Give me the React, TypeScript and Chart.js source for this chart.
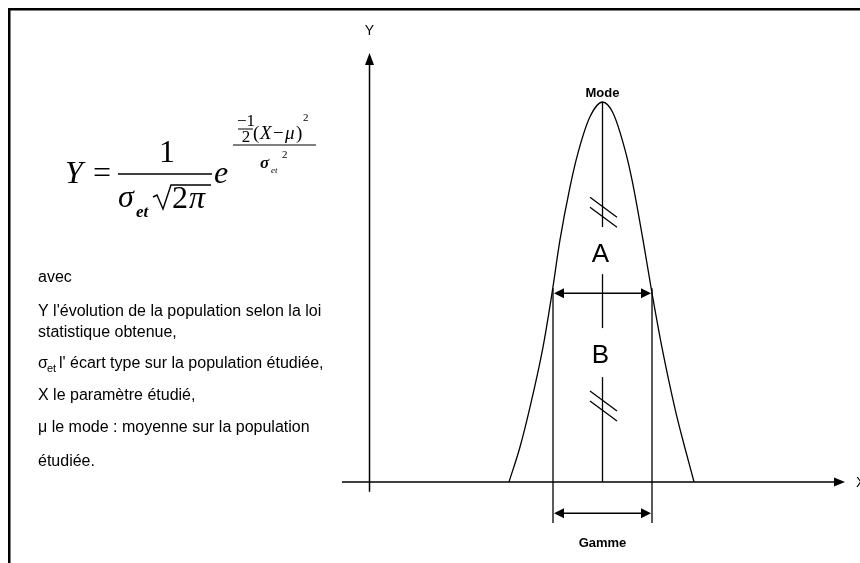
import { useEffect, useRef } from "react";
import { Chart, registerables } from "chart.js";

Chart.register(...registerables);

// ---- Data (X: in units of the half "Gamme" width, centred on the mode; Y: normalised to the mode) ----
const curveX = [-1.889, -1.667, -1.465, -1.202, -1.02, -0.859, -0.657, -0.495, -0.253, 0, 0.212, 0.455, 0.596, 0.818, 1.0, 1.2, 1.47, 1.66, 1.85];
const curveY = [0, 0.092, 0.197, 0.355, 0.497, 0.637, 0.776, 0.866, 0.961, 1.0, 0.971, 0.874, 0.795, 0.637, 0.497, 0.355, 0.19, 0.092, 0];

const modeX = 0;
const axisYAt = -4.707;
const axisYSpan = [-0.026, 1.129];
const axisXSpan = [-5.263, 4.899];
const gammeBounds = [-1, 1];
const gammeLineSpan = [-0.108, 0.51];
const splitArrowY = 0.497;
const gammeArrowY = -0.082;
const modeSegments = [
  [1.0, 0.671],
  [0.547, 0.405],
  [0.276, 0],
];
const hashMarkY = [0.71, 0.2];
const zoneLabels = ["A", "B"];
const zoneLabelY = [0.605, 0.339];
const modeLabel = "Mode";
const modeLabelY = 1.026;
const gammeLabel = "Gamme";
const gammeLabelY = -0.155;
const axisNames = ["X", "Y"];

// ---- Texts ----
const noteHead = "avec";
const noteLines = [
  "Y l'évolution de la population selon la loi",
  "statistique obtenue,",
  "l' écart type sur la population étudiée,",
  "X le paramètre étudié,",
  "μ le mode : moyenne sur la population",
  "étudiée.",
];
const sigmaSymbol = "σ";
const sigmaSub = "et";

const X_MIN = -12.172;
const X_MAX = 5.202;
const Y_MIN = -0.2132;
const Y_MAX = 1.2684;

const SANS = '"Liberation Sans", Arial, sans-serif';
const SERIF = '"Liberation Serif", "Times New Roman", serif';

function arrowHead(ctx: CanvasRenderingContext2D, tx: number, ty: number, angle: number, len: number, half: number) {
  ctx.save();
  ctx.translate(tx, ty);
  ctx.rotate(angle);
  ctx.beginPath();
  ctx.moveTo(0, 0);
  ctx.lineTo(-len, -half);
  ctx.lineTo(-len, half);
  ctx.closePath();
  ctx.fill();
  ctx.restore();
}

function line(ctx: CanvasRenderingContext2D, x1: number, y1: number, x2: number, y2: number, w: number) {
  ctx.lineWidth = w;
  ctx.beginPath();
  ctx.moveTo(x1, y1);
  ctx.lineTo(x2, y2);
  ctx.stroke();
}

function text(ctx: CanvasRenderingContext2D, s: string, x: number, y: number, font: string, align: CanvasTextAlign = "left") {
  ctx.font = font;
  ctx.textAlign = align;
  ctx.textBaseline = "alphabetic";
  ctx.fillText(s, x, y);
}

const diagramPlugin = {
  id: "diagram",
  afterDatasetsDraw(chart: any) {
    const ctx: CanvasRenderingContext2D = chart.ctx;
    const xs = chart.scales.x;
    const ys = chart.scales.y;
    const px = (v: number) => xs.getPixelForValue(v);
    const py = (v: number) => ys.getPixelForValue(v);
    ctx.save();
    ctx.strokeStyle = "#000";
    ctx.fillStyle = "#000";
    ctx.lineCap = "butt";

    // frame
    ctx.fillRect(8, 8, 852, 2.5);
    ctx.fillRect(8, 8, 2.5, 555);

    // Y axis
    const yAxX = px(axisYAt);
    line(ctx, yAxX, py(axisYSpan[0]), yAxX, py(axisYSpan[1]) + 10, 1.5);
    arrowHead(ctx, yAxX, py(axisYSpan[1]), -Math.PI / 2, 12, 4.5);
    // X axis
    const xAxY = py(0);
    line(ctx, px(axisXSpan[0]), xAxY, px(axisXSpan[1]) - 9, xAxY, 1.5);
    arrowHead(ctx, px(axisXSpan[1]), xAxY, 0, 11, 4.5);

    // axis names
    text(ctx, axisNames[1], yAxX, py(axisYSpan[1]) - 18, `14px ${SANS}`, "center");
    text(ctx, axisNames[0], px(axisXSpan[1]) + 11, xAxY + 5, `14px ${SANS}`, "left");

    // mode line segments
    for (const [a, b] of modeSegments) {
      line(ctx, px(modeX), py(a), px(modeX), py(b), 1.3);
    }
    // gamme vertical lines
    for (const g of gammeBounds) {
      line(ctx, px(g), py(gammeLineSpan[1]), px(g), py(gammeLineSpan[0]), 1.3);
    }
    // double arrows
    for (const yv of [splitArrowY, gammeArrowY]) {
      const l = px(gammeBounds[0]);
      const r = px(gammeBounds[1]);
      const yy = py(yv);
      line(ctx, l + 8, yy, r - 8, yy, 1.5);
      arrowHead(ctx, l + 1, yy, Math.PI, 10, 5);
      arrowHead(ctx, r - 1, yy, 0, 10, 5);
    }
    // hash marks
    for (const h of hashMarkY) {
      const cx = px(modeX) + 1;
      const cy = py(h);
      for (const off of [-5, 5]) {
        line(ctx, cx - 13.5, cy - 10 + off, cx + 13.5, cy + 10 + off, 1.3);
      }
    }
    // labels
    ctx.fillStyle = "#000";
    text(ctx, modeLabel, px(modeX), py(modeLabelY) + 5, `bold 13px ${SANS}`, "center");
    text(ctx, gammeLabel, (px(gammeBounds[0]) + px(gammeBounds[1])) / 2, py(gammeLabelY) + 6, `bold 13px ${SANS}`, "center");
    zoneLabels.forEach((s, i) => {
      text(ctx, s, px(modeX) - 2, py(zoneLabelY[i]) + 10, `26px ${SANS}`, "center");
    });

    // ---- formula ----
    text(ctx, "Y", 65, 183, `italic 32px ${SERIF}`);
    text(ctx, "=", 93, 183, `32px ${SERIF}`);
    line(ctx, 118, 174, 212, 174, 1.6);
    text(ctx, "1", 167, 162, `32px ${SERIF}`, "center");
    text(ctx, "σ", 118, 207, `italic 32px ${SERIF}`);
    text(ctx, "et", 136, 217, `italic bold 17px ${SERIF}`);
    // radical
    ctx.lineWidth = 1.4;
    ctx.beginPath();
    ctx.moveTo(153, 197);
    ctx.lineTo(157, 195);
    ctx.lineTo(163, 209);
    ctx.lineTo(171, 185);
    ctx.lineTo(211, 185);
    ctx.stroke();
    text(ctx, "2", 172, 208, `32px ${SERIF}`);
    text(ctx, "π", 189, 208, `italic 32px ${SERIF}`);
    text(ctx, "e", 214, 183, `italic 32px ${SERIF}`);
    // exponent
    line(ctx, 233, 145, 316, 145, 1);
    text(ctx, "−1", 246, 126, `17px ${SERIF}`, "center");
    line(ctx, 238, 129, 253, 129, 1);
    text(ctx, "2", 246, 142, `17px ${SERIF}`, "center");
    text(ctx, "(", 253, 139, `19px ${SERIF}`);
    text(ctx, "X", 260, 139, `italic 19px ${SERIF}`);
    text(ctx, "−", 273, 139, `19px ${SERIF}`);
    text(ctx, "μ", 285, 139, `italic 19px ${SERIF}`);
    text(ctx, ")", 296, 139, `19px ${SERIF}`);
    text(ctx, "2", 303, 121, `11px ${SERIF}`);
    text(ctx, "σ", 260, 168, `italic bold 17px ${SERIF}`);
    text(ctx, "et", 271, 173, `italic 9px ${SERIF}`);
    text(ctx, "2", 282, 158, `11px ${SERIF}`);

    // ---- notes ----
    const nf = `16px ${SANS}`;
    text(ctx, noteHead, 38, 282, nf);
    const baselines = [316, 337, 368, 400, 432, 466];
    noteLines.forEach((s, i) => {
      if (i === 2) {
        text(ctx, sigmaSymbol, 38, baselines[i], nf);
        text(ctx, sigmaSub, 47, baselines[i] + 4, `11px ${SANS}`);
        text(ctx, s, 59, baselines[i], nf);
      } else {
        text(ctx, s, 38, baselines[i], nf);
      }
    });
    ctx.restore();
  },
};

export default function App() {
  const ref = useRef<HTMLCanvasElement | null>(null);
  useEffect(() => {
    document.body.style.margin = "0";
    const canvas = ref.current;
    if (!canvas) return;
    const chart = new Chart(canvas, {
      type: "line",
      data: {
        datasets: [
          {
            label: "Y",
            data: curveX.map((x, i) => ({ x, y: curveY[i] })),
            borderColor: "#000",
            borderWidth: 1.3,
            pointRadius: 0,
            fill: false,
            cubicInterpolationMode: "monotone",
          },
        ],
      },
      options: {
        responsive: false,
        animation: false,
        devicePixelRatio: 1,
        layout: { padding: 0 },
        plugins: { legend: { display: false }, tooltip: { enabled: false }, title: { display: false } },
        scales: {
          x: { type: "linear", min: X_MIN, max: X_MAX, display: false },
          y: { type: "linear", min: Y_MIN, max: Y_MAX, display: false },
        },
      },
      plugins: [diagramPlugin],
    });
    return () => chart.destroy();
  }, []);
  return (
    <div style={{ position: "absolute", left: 0, top: 0, width: 860, height: 563, background: "#fff" }}>
      <canvas ref={ref} width={860} height={563} />
    </div>
  );
}
